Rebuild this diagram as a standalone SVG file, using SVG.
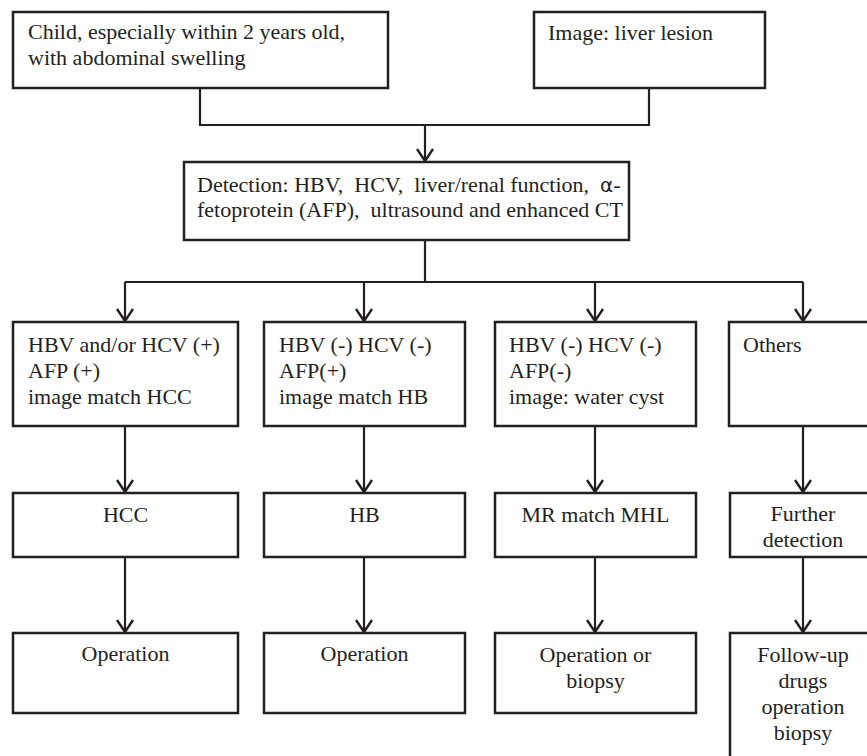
<svg xmlns="http://www.w3.org/2000/svg" width="867" height="756" viewBox="0 0 867 756">
<style>
.box{fill:#fff;stroke:#231f20;stroke-width:2.5}
.t{font-family:"Liberation Serif","Times New Roman",serif;font-size:22px;fill:#231f20}
.c{text-anchor:middle}
.ln{fill:none;stroke:#231f20;stroke-width:2.2}
.ar{fill:none;stroke:#231f20;stroke-width:2.2;marker-end:url(#arr)}
</style>
<defs>
<marker id="arr" markerUnits="userSpaceOnUse" viewBox="-2 -10 16 20" markerWidth="16" markerHeight="20" refX="12" refY="0" orient="auto">
<path d="M0,-8 L12,0 L0,8" fill="none" stroke="#231f20" stroke-width="2.4"/>
</marker>
</defs>
<rect width="867" height="756" fill="#fff"/>
<g id="connectors">
<path class="ln" d="M200,88 V125 H649 V88"/>
<path class="ar" d="M425,125 V161"/>
<path class="ln" d="M425,240 V282 M125,282 H803"/>
<path class="ar" d="M125,282 V321"/>
<path class="ar" d="M364,282 V321"/>
<path class="ar" d="M595,282 V321"/>
<path class="ar" d="M803,282 V321"/>
<path class="ar" d="M125,426 V492"/>
<path class="ar" d="M364,426 V492"/>
<path class="ar" d="M595,426 V492"/>
<path class="ar" d="M803,426 V492"/>
<path class="ar" d="M125,557 V632"/>
<path class="ar" d="M364,557 V632"/>
<path class="ar" d="M595,557 V632"/>
<path class="ar" d="M803,557 V632"/>
</g>
<g id="child">
<rect class="box" x="13" y="12" width="375" height="76"/>
<text class="t" x="28" y="39">Child, especially within 2 years old,</text>
<text class="t" x="28" y="65">with abdominal swelling</text>
</g>
<g id="image">
<rect class="box" x="534" y="12" width="231" height="76"/>
<text class="t" x="548" y="40">Image: liver lesion</text>
</g>
<g id="detection">
<rect class="box" x="184" y="162" width="445" height="78"/>
<text class="t" x="197" y="192" xml:space="preserve">Detection: HBV,  HCV,  liver/renal function,  <tspan font-family="'DejaVu Sans',sans-serif" font-size="20">α</tspan>-</text>
<text class="t" x="197" y="217" xml:space="preserve">fetoprotein (AFP),  ultrasound and enhanced CT</text>
</g>
<g id="c1">
<rect class="box" x="13" y="322" width="225" height="104"/>
<text class="t" x="28" y="352">HBV and/or HCV (+)</text>
<text class="t" x="28" y="378">AFP (+)</text>
<text class="t" x="28" y="404">image match HCC</text>
</g>
<g id="c2">
<rect class="box" x="264" y="322" width="201" height="104"/>
<text class="t" x="279" y="352">HBV (-) HCV (-)</text>
<text class="t" x="279" y="378">AFP(+)</text>
<text class="t" x="279" y="404">image match HB</text>
</g>
<g id="c3">
<rect class="box" x="495" y="322" width="201" height="104"/>
<text class="t" x="509" y="352">HBV (-) HCV (-)</text>
<text class="t" x="509" y="378">AFP(-)</text>
<text class="t" x="509" y="404">image: water cyst</text>
</g>
<g id="c4">
<rect class="box" x="729" y="322" width="148" height="104"/>
<text class="t" x="743" y="352">Others</text>
</g>
<g id="hcc">
<rect class="box" x="13" y="493" width="225" height="64"/>
<text class="t c" x="125.5" y="522">HCC</text>
</g>
<g id="hb">
<rect class="box" x="264" y="493" width="201" height="64"/>
<text class="t c" x="364.5" y="522">HB</text>
</g>
<g id="mhl">
<rect class="box" x="495" y="493" width="201" height="64"/>
<text class="t c" x="595.5" y="522">MR match MHL</text>
</g>
<g id="further">
<rect class="box" x="730" y="493" width="147" height="64"/>
<text class="t c" x="803" y="521">Further</text>
<text class="t c" x="803" y="547">detection</text>
</g>
<g id="op1">
<rect class="box" x="13" y="633" width="225" height="80"/>
<text class="t c" x="125.5" y="661">Operation</text>
</g>
<g id="op2">
<rect class="box" x="264" y="633" width="201" height="80"/>
<text class="t c" x="364.5" y="661">Operation</text>
</g>
<g id="op3">
<rect class="box" x="495" y="633" width="201" height="80"/>
<text class="t c" x="595.5" y="662">Operation or</text>
<text class="t c" x="595.5" y="688">biopsy</text>
</g>
<g id="follow">
<rect class="box" x="730" y="633" width="147" height="140"/>
<text class="t c" x="803" y="662">Follow-up</text>
<text class="t c" x="803" y="688">drugs</text>
<text class="t c" x="803" y="714">operation</text>
<text class="t c" x="803" y="740">biopsy</text>
</g>
</svg>
